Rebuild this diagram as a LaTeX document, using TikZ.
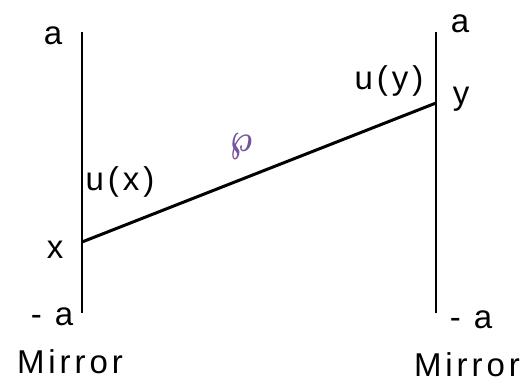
\documentclass[tikz,border=0pt]{standalone}
\usepackage{fontspec}
\setmainfont{Liberation Sans}[LetterSpace=12]
\usepackage{amsmath,amssymb}
\usetikzlibrary{positioning}
\definecolor{rhocol}{RGB}{118,82,160}
\tikzset{
  lbl/.style={font=\fontsize{33}{38}\selectfont,inner sep=0pt,anchor=base},
  mirror/.style={line width=2.6pt},
  ray/.style={line width=3pt}
}

\begin{document}
\begin{tikzpicture}[x=1pt,y=-1pt]
\useasboundingbox (0,0) rectangle (525,385);
% mirror ends
\coordinate (ltop) at (82,32);
\coordinate (lbot) at (82,313);
\coordinate (rtop) at (436,32);
\coordinate (rbot) at (436,313);
% points on the mirrors
\coordinate (px) at (82,242);
\coordinate (py) at (436,103);

\draw[mirror] (ltop) -- (lbot);
\draw[mirror] (rtop) -- (rbot);
\draw[ray] (px) -- (py);

% left mirror labels
\node[lbl] (la) at (53,45) {a};
\node[lbl] (lma) at (52,325) {- a};
\node[lbl] (xlab) at (55,258) {x};
\node[lbl] (ux) at (120,190) {u(x)};
\node[lbl] (lmirror) at (70,373) {Mirror};
% right mirror labels
\node[lbl] (ra) at (460,33) {a};
\node[lbl] (rma) at (471,328) {- a};
\node[lbl] (ylab) at (461,105) {y};
\node[lbl] (uy) at (389,90) {u(y)};
\node[lbl] (rmirror) at (467,376) {Mirror};
% kernel
\node[text=rhocol,inner sep=0pt] (rho) at (241,147) {\scalebox{3}[4]{$\boldsymbol{\wp}$}};
\end{tikzpicture}
\end{document}
